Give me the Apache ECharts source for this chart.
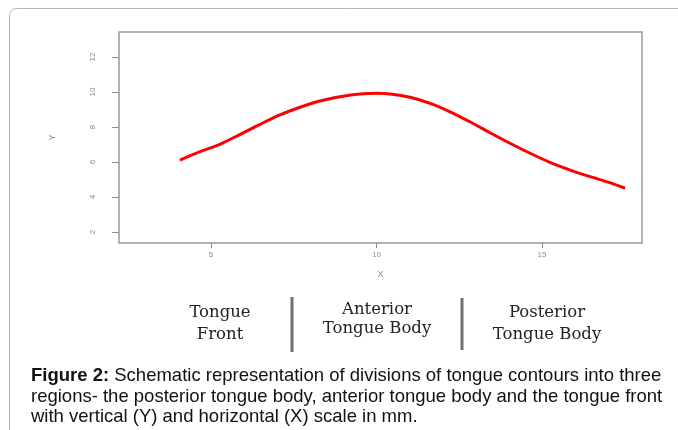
<!DOCTYPE html>
<html>
<head>
<meta charset="utf-8">
<script src="https://cdn.jsdelivr.net/npm/echarts@6/dist/echarts.min.js"></script>
<style>html,body{margin:0;padding:0;background:#fff;}#c{width:678px;height:430px;}</style>
</head>
<body>
<div id="c"></div>
<script>
// Data
const xValues = [4.06, 4.67, 5.27, 5.88, 6.48, 7.08, 7.69, 8.29, 8.90, 9.50, 10.01, 10.41, 11.01, 11.62, 12.22, 12.82, 13.43, 14.03, 14.64, 15.24, 15.85, 16.45, 17.05, 17.51];
const yValues = [6.11, 6.59, 7.01, 7.58, 8.15, 8.69, 9.13, 9.49, 9.73, 9.89, 9.93, 9.89, 9.70, 9.35, 8.87, 8.30, 7.67, 7.07, 6.50, 5.98, 5.54, 5.16, 4.82, 4.50];
const xTicks = [5, 10, 15];
const yTicks = [2, 4, 6, 8, 10, 12];
const regionLabels = [['Tongue', 'Front'], ['Anterior', 'Tongue Body'], ['Posterior', 'Tongue Body']];
const captionBold = 'Figure 2:';
const captionLines = [
  ' Schematic representation of divisions of tongue contours into three',
  'regions- the posterior tongue body, anterior tongue body and the tongue front',
  'with vertical (Y) and horizontal (X) scale in mm.'
];

const chart = echarts.init(document.getElementById('c'), null, {renderer: 'canvas'});
const tickColor = '#8a8a8a';
const serif = '"DejaVu Serif", "Liberation Serif", serif';
const sans = '"Liberation Sans", Arial, sans-serif';

const graphics = [
  {type: 'rect', shape: {x: 9.5, y: 8.5, width: 720, height: 500, r: 7},
   style: {fill: null, stroke: '#b5b5b5', lineWidth: 1}, silent: true},
  {type: 'line', shape: {x1: 292, y1: 297, x2: 292, y2: 352}, style: {stroke: '#707070', lineWidth: 3}},
  {type: 'line', shape: {x1: 462, y1: 298, x2: 462, y2: 350}, style: {stroke: '#707070', lineWidth: 3}}
];
const regionPos = [[220, 302, 22], [377, 300, 19], [547, 302, 22]];
const regionGraphics = regionLabels.map((lab, i) => ({
  type: 'text', x: regionPos[i][0], y: regionPos[i][1],
  style: {text: lab.join('\n'), align: 'center', verticalAlign: 'top',
          font: '16.5px ' + serif, fill: '#222', lineHeight: regionPos[i][2]}
}));

const captionGraphics = [
  {type: 'text', x: 31, y: 366, style: {
    text: '{b|' + captionBold + '}{n|' + captionLines[0] + '}\n{n|' + captionLines[1] + '}\n{n|' + captionLines[2] + '}',
    rich: {
      b: {font: 'bold 18.5px ' + sans, fill: '#111', lineHeight: 20.5},
      n: {font: '18.5px ' + sans, fill: '#111', lineHeight: 20.5}
    },
    verticalAlign: 'top'
  }}
];

chart.setOption({
  animation: false,
  backgroundColor: '#fff',
  grid: {left: 119, right: 36, top: 32, bottom: 187, show: true, borderColor: '#9a9a9a', borderWidth: 1.5, containLabel: false},
  xAxis: {
    type: 'value', min: 2.22, max: 18.02,
    name: 'X', nameLocation: 'middle', nameGap: 27,
    nameTextStyle: {color: tickColor, fontSize: 9, fontFamily: sans},
    axisLine: {show: false},
    axisTick: {show: true, inside: false, length: 5, lineStyle: {color: tickColor}, customValues: xTicks},
    axisLabel: {color: tickColor, fontSize: 8, fontFamily: sans, margin: 8, customValues: xTicks},
    splitLine: {show: false}
  },
  yAxis: {
    type: 'value', min: 1.37, max: 13.43,
    name: 'Y', nameLocation: 'middle', nameGap: 62, nameRotate: 90,
    nameTextStyle: {color: tickColor, fontSize: 9, fontFamily: sans},
    axisLine: {show: false},
    axisTick: {show: true, inside: false, length: 7, lineStyle: {color: tickColor}, customValues: yTicks},
    axisLabel: {color: tickColor, fontSize: 8, fontFamily: sans, margin: 22, rotate: 90, customValues: yTicks},
    splitLine: {show: false}
  },
  series: [{
    type: 'line', smooth: 0.3, showSymbol: false,
    data: xValues.map((x, i) => [x, yValues[i]]),
    lineStyle: {color: '#ff0000', width: 3}
  }],
  graphic: graphics.concat(regionGraphics, captionGraphics)
});
</script>
</body>
</html>
